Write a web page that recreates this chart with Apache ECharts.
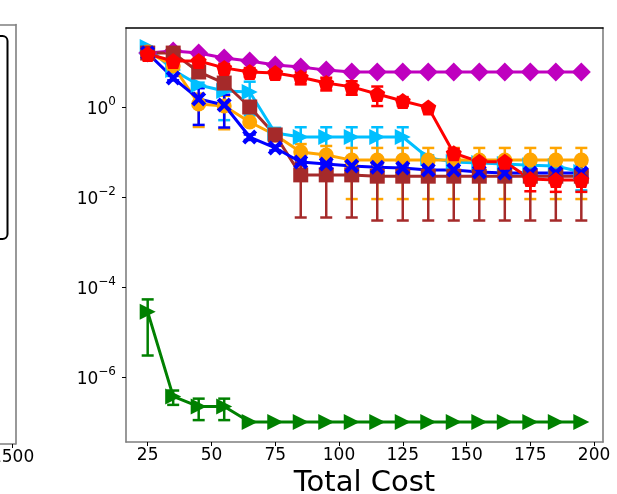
<!DOCTYPE html>
<html>
<head>
<meta charset="utf-8">
<script src="https://cdn.jsdelivr.net/npm/echarts@6/dist/echarts.min.js"></script>
<style>html,body{margin:0;padding:0;background:#fff;}#c{width:617px;height:494px;}</style>
</head>
<body>
<div id="c"></div>
<script>
const costs = [25,35,45,55,65,75,85,95,105,115,125,135,145,155,165,175,185,195];
const xTicks = [25,50,75,100,125,150,175,200];
const yTicks = [1e-6,1e-4,1e-2,1];

const magenta = [15.8,17.6,15.8,12.3,10.5,8.6,7.7,6.6,6.0,6.0,6.0,6.0,6.0,6.0,6.0,6.0,6.0,6.0];
const magentaErr = [0,0,0,0,0,0,0,0,0,0,0,0,0,0,0,0,0,0];
const red = [15.1,10.5,10.5,7.4,6.0,5.7,4.6,3.4,2.8,1.95,1.36,0.98,0.094,0.061,0.061,0.025,0.024,0.024];
const redErr = [2.2,2.1,2.1,1.7,1.35,1.3,1.4,1.07,0.93,0.9,0.3,0,0.024,0.014,0.014,0.0116,0.011,0.011];
const sky = [21.5,6.6,3.08,2.27,2.15,0.264,0.215,0.215,0.215,0.215,0.215,0.074,0.06,0.057,0.054,0.051,0.049,0.036];
const skyErr = [0,0,0.4,1.76,1.5,0.08,0.14,0.14,0.14,0.14,0.14,0.01,0.01,0.01,0.01,0.01,0.012,0.022];
const orange = [16.7,8.15,1.17,1.05,0.464,0.239,0.1,0.086,0.066,0.066,0.066,0.066,0.066,0.066,0.066,0.066,0.066,0.066];
const orangeErr = [0,0.8,0.81,0.73,0.03,0.03,0.05,0.05,0.057,0.057,0.057,0.057,0.057,0.057,0.057,0.057,0.057,0.057];
const brown = [15.8,15.8,6.0,3.41,1.0,0.239,0.031,0.031,0.031,0.029,0.029,0.029,0.029,0.029,0.029,0.029,0.029,0.029];
const brownErr = [1,1,0.5,0.3,0.1,0.03,0.0275,0.0275,0.0275,0.026,0.026,0.026,0.026,0.026,0.026,0.026,0.026,0.026];
const blue = [15.8,4.41,1.51,1.11,0.215,0.123,0.06,0.054,0.049,0.046,0.044,0.040,0.040,0.036,0.034,0.034,0.034,0.034];
const blueErr = [1.5,0.5,1.11,0.76,0.03,0.015,0.006,0.006,0.006,0.006,0.006,0.006,0.006,0.006,0.006,0.006,0.006,0.006];
const green = [2.8e-5,3.7e-7,2.2e-7,2.2e-7,1e-7,1e-7,1e-7,1e-7,1e-7,1e-7,1e-7,1e-7,1e-7,1e-7,1e-7,1e-7,1e-7,1e-7];
const greenErr = [2.5e-5,1.3e-7,1.1e-7,1.1e-7,0,0,0,0,0,0,0,0,0,0,0,0,0,0];

const FONT = 'DejaVu Sans';
const PENT = 'path://M0,-1 L0.951,-0.309 L0.588,0.809 L-0.588,0.809 L-0.951,-0.309 Z';
const TRI_R = 'path://M1,0 L-1,1 L-1,-1 Z';
const XFILL = 'path://M-1,-0.6 L-0.6,-1 L0,-0.4 L0.6,-1 L1,-0.6 L0.4,0 L1,0.6 L0.6,1 L0,0.4 L-0.6,1 L-1,0.6 L-0.4,0 Z';

const seriesDefs = [
  {name:'green', vals: green, err: greenErr, color:'#008000', symbol: TRI_R, size: 16},
  {name:'magenta', vals: magenta, err: magentaErr, color:'#BF00BF', symbol: 'diamond', size: 19},
  {name:'sky', vals: sky, err: skyErr, color:'#00BFFF', symbol: TRI_R, size: 16},
  {name:'orange', vals: orange, err: orangeErr, color:'#FFA500', symbol: 'circle', size: 15},
  {name:'brown', vals: brown, err: brownErr, color:'#A52A2A', symbol: 'rect', size: 15},
  {name:'blue', vals: blue, err: blueErr, color:'#0000FF', symbol: XFILL, size: 15},
  {name:'red', vals: red, err: redErr, color:'#FF0000', symbol: PENT, size: 16}
];

function errRender(color) {
  return function (params, api) {
    const x = api.value(0), lo = api.value(1), hi = api.value(2);
    const p1 = api.coord([x, lo]), p2 = api.coord([x, hi]);
    const cw = 6;
    const st = {stroke: color, lineWidth: 2.5};
    return {type: 'group', children: [
      {type: 'line', shape: {x1: p1[0], y1: p1[1], x2: p2[0], y2: p2[1]}, style: st},
      {type: 'line', shape: {x1: p1[0]-cw, y1: p1[1], x2: p1[0]+cw, y2: p1[1]}, style: st},
      {type: 'line', shape: {x1: p2[0]-cw, y1: p2[1], x2: p2[0]+cw, y2: p2[1]}, style: st}
    ]};
  };
}

const series = [];
seriesDefs.forEach(function (d) {
  const errData = [];
  costs.forEach(function (x, i) {
    if (d.err[i] > 0) errData.push([x, d.vals[i] - d.err[i], d.vals[i] + d.err[i]]);
  });
  series.push({
    type: 'custom', name: d.name + '_err', xAxisIndex: 0, yAxisIndex: 0,
    renderItem: errRender(d.color), data: errData, clip: true,
    encode: {x: 0, y: [1, 2]}, silent: true
  });
  series.push({
    type: 'line', name: d.name, xAxisIndex: 0, yAxisIndex: 0,
    data: costs.map(function (x, i) { return [x, d.vals[i]]; }),
    symbol: d.symbol, symbolSize: d.size, showSymbol: true,
    lineStyle: {color: d.color, width: 3},
    itemStyle: {color: d.color, borderWidth: 0},
    clip: true, silent: true
  });
});

function fmtPow(v) {
  const e = Math.round(Math.log10(v));
  const s = e < 0 ? '\u2212' + (-e) : String(e);
  return '{b|10}{s|' + s + '}';
}

const chart = echarts.init(document.getElementById('c'), null, {renderer: 'canvas'});
chart.setOption({
  animation: false,
  backgroundColor: '#ffffff',
  grid: [
    {left: 126, top: 28, width: 477, height: 414, containLabel: false, outerBoundsMode: 'none'},
    {left: -300, top: 24.5, width: 315.5, height: 419.5, containLabel: false, outerBoundsMode: 'none'}
  ],
  xAxis: [
    {
      type: 'value', gridIndex: 0, min: 16.5, max: 203.5,
      name: 'Total Cost', nameLocation: 'middle', nameGap: 26,
      nameTextStyle: {fontFamily: FONT, fontSize: 29, color: '#000'},
      axisLine: {show: true, lineStyle: {color: '#7f7f7f', width: 1.6}},
      axisTick: {show: true, length: 4, lineStyle: {color: '#000', width: 1}, customValues: xTicks},
      axisLabel: {show: true, margin: 5, fontFamily: FONT, fontSize: 17, color: '#000', customValues: xTicks},
      splitLine: {show: false}
    },
    {
      type: 'value', gridIndex: 0, position: 'top', min: 16.5, max: 203.5,
      axisLine: {show: true, onZero: false, lineStyle: {color: '#000', width: 1.6}},
      axisTick: {show: false}, axisLabel: {show: false}, splitLine: {show: false}
    },
    {
      type: 'value', gridIndex: 1, min: 0, max: 1514,
      axisLine: {show: true, onZero: false, lineStyle: {color: '#7f7f7f', width: 1.6}},
      axisTick: {show: true, length: 4, lineStyle: {color: '#000', width: 1}, customValues: [1500]},
      axisLabel: {show: true, margin: 5, fontFamily: FONT, fontSize: 17, color: '#000', customValues: [1500],
                  formatter: function (v) { return String(v); }},
      splitLine: {show: false}
    },
    {
      type: 'value', gridIndex: 1, position: 'top', min: 0, max: 1514,
      axisLine: {show: true, onZero: false, lineStyle: {color: '#7f7f7f', width: 1.6}},
      axisTick: {show: false}, axisLabel: {show: false}, splitLine: {show: false}
    }
  ],
  yAxis: [
    {
      type: 'log', logBase: 10, gridIndex: 0, min: 3.59e-8, max: 56.96,
      axisLine: {show: true, onZero: false, lineStyle: {color: '#7f7f7f', width: 1.6}},
      axisTick: {show: true, length: 4, lineStyle: {color: '#000', width: 1}, customValues: yTicks},
      axisLabel: {
        show: true, margin: 10, customValues: yTicks, formatter: fmtPow,
        rich: {
          b: {fontFamily: FONT, fontSize: 17, color: '#000', lineHeight: 22, verticalAlign: 'bottom'},
          s: {fontFamily: FONT, fontSize: 12, color: '#000', lineHeight: 13, verticalAlign: 'top'}
        }
      },
      splitLine: {show: false}, minorTick: {show: false}
    },
    {
      type: 'value', gridIndex: 0, position: 'right', min: 0, max: 1,
      axisLine: {show: true, onZero: false, lineStyle: {color: '#7f7f7f', width: 1.6}},
      axisTick: {show: false}, axisLabel: {show: false}, splitLine: {show: false}
    },
    {
      type: 'value', gridIndex: 1, position: 'right', min: 0, max: 1,
      axisLine: {show: true, onZero: false, lineStyle: {color: '#7f7f7f', width: 1.6}},
      axisTick: {show: false}, axisLabel: {show: false}, splitLine: {show: false}
    }
  ],
  graphic: [
    {type: 'rect', left: -60, top: 35, shape: {x: -60, y: 35, width: 66.5, height: 203, r: 5},
     style: {fill: '#fff', stroke: '#000', lineWidth: 2}, z: 10}
  ],
  series: series
});
</script>
</body>
</html>
